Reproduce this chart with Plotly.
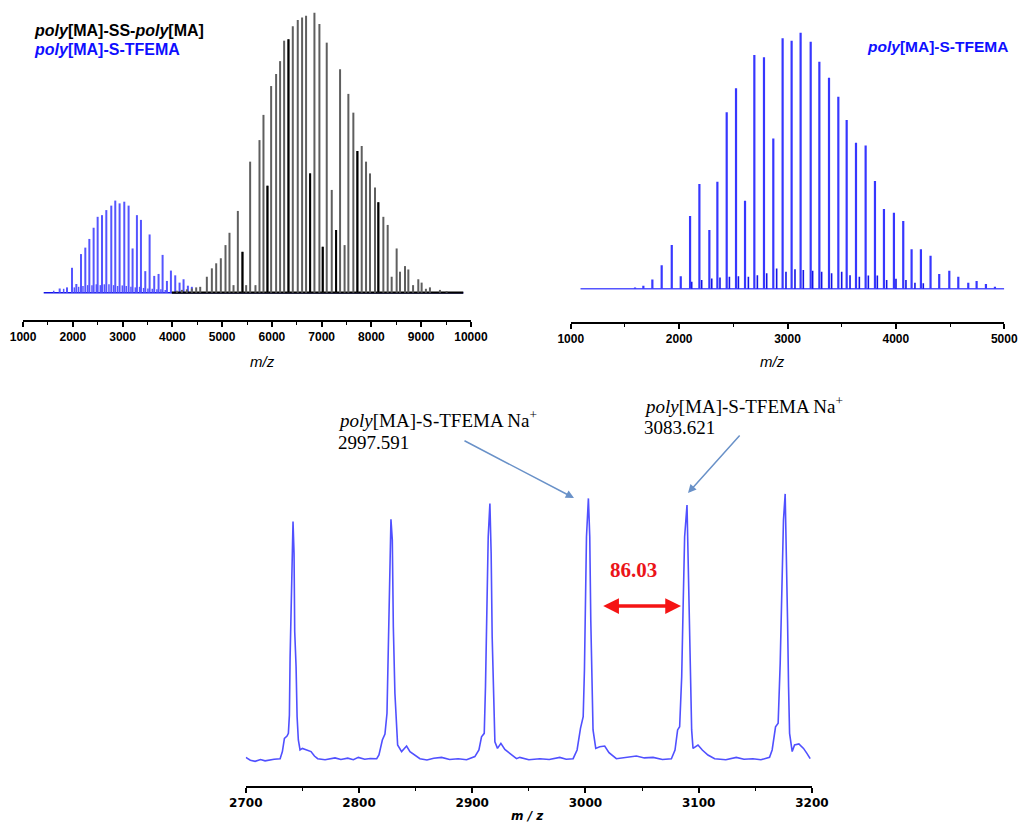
import plotly.graph_objects as go

W, H = 1021, 832

# ---------------- data ----------------
# Panel 1: poly[MA]-SS-poly[MA] (grey/black sticks)
P1_SS_MZ = [4091, 4192, 4292, 4392, 4479, 4560, 4693, 4794, 4881, 4974, 5068, 5148, 5229, 5316,
            5409, 5483, 5563, 5670, 5751, 5831, 5911, 5985, 6085, 6165, 6246, 6333, 6420, 6520,
            6607, 6687, 6768, 6855, 6955, 7022, 7102, 7203, 7290, 7370, 7461, 7537, 7637, 7718,
            7805, 7892, 7972, 8072, 8139, 8240, 8327, 8407, 8507, 8574, 8675, 8742, 8837, 8942,
            9009, 9095, 9176, 9377, 9511]
P1_SS_INT = [0.7, 1.0, 1.2, 1.5, 1.9, 2.1, 5.7, 8.7, 10.5, 12.3, 17.0, 21.4, 2.7, 29.2,
             14.6, 2.7, 46.8, 2.7, 54.5, 63.5, 38.2, 73.8, 78.1, 82.7, 90.0, 90.5, 95.2, 97.4,
             98.3, 98.9, 42.6, 100.0, 96.0, 16.4, 89.3, 36.7, 22.4, 79.8, 17.0, 71.0, 64.3, 50.6,
             52.4, 46.8, 42.6, 37.6, 32.3, 27.1, 24.2, 5.7, 15.8, 7.5, 9.5, 8.3, 2.7, 4.8,
             3.6, 1.4, 1.9, 1.0, 0.6]
P1_SS_DARK_MZ = [5409, 5911, 6333, 6768, 7022, 7290, 7718, 8139]
P1_SS_DARK_INT = [14.6, 38.2, 90.5, 42.6, 16.4, 22.4, 50.6, 32.3]

# Panel 1: poly[MA]-S-TFEMA (blue sticks)
P1_TF_MZ = [1736, 1883, 1984, 2071, 2164, 2251, 2332, 2418, 2499, 2586, 2673, 2773, 2853, 2940,
            3034, 3121, 3201, 3288, 3369, 3456, 3543, 3636, 3723, 3804, 3891, 3971, 4058, 4145,
            4225, 4312, 4392]
P1_TF_INT = [1.5, 1.9, 8.9, 3.1, 13.8, 16.1, 19.2, 23.2, 27.1, 27.7, 29.5, 31.1, 32.9, 31.9,
             32.5, 31.1, 15.8, 27.7, 26.0, 7.7, 20.8, 6.0, 6.7, 13.5, 4.2, 7.9, 6.2, 3.6,
             4.8, 2.5, 2.1]
P1_TF_SMALL_MZ = [1616, 1816, 2030, 2117, 2204, 2298, 2385, 2472, 2552, 2633, 2726, 2820, 2900,
                  2994, 3074, 3168, 3255, 3342, 3422, 3509, 3596, 3690, 3770, 3857]
P1_TF_SMALL_INT = [0.7, 1.4, 1.9, 2.1, 2.4, 2.7, 2.7, 3.0, 2.7, 3.0, 3.0, 2.7, 2.4,
                   2.6, 2.4, 2.1, 1.9, 2.1, 1.7, 1.5, 1.4, 1.2, 1.2, 1.0]
P1_TF_BASE = [1415, 9846]
P1_SS_BASE = [3990, 9846]

# Panel 2: poly[MA]-S-TFEMA
P2_MZ = [1593, 1670, 1753, 1839, 1932, 2015, 2101, 2187, 2279, 2353, 2439, 2525, 2608, 2694,
         2783, 2869, 2955, 3038, 3121, 3214, 3294, 3383, 3469, 3546, 3632, 3721, 3807, 3890,
         3982, 4068, 4145, 4231, 4320, 4400, 4493, 4576, 4668, 4745, 4831, 4914]
P2_INT = [0.5, 1.2, 3.6, 9.2, 17.1, 4.9, 28.4, 40.9, 22.9, 41.8, 68.9, 78.3, 34.4, 91.3,
          90.4, 58.7, 97.8, 96.9, 100.0, 96.5, 88.7, 82.4, 75.0, 65.9, 57.0, 55.9, 42.1, 31.1,
          29.7, 26.4, 15.4, 15.4, 12.9, 5.7, 7.0, 4.7, 2.3, 3.0, 1.8, 0.8]
P2_SMALL_MZ = [2116, 2208, 2301, 2377, 2464, 2547, 2639, 2722, 2808, 2900, 2986, 3069, 3146,
               3232, 3315, 3407, 3500, 3577, 3663, 3746, 3829, 3915, 4001, 4093, 4176, 4253]
P2_SMALL_INT = [2.7, 3.4, 4.0, 4.4, 4.7, 4.9, 4.7, 5.3, 6.0, 7.9, 6.6, 7.6, 7.3,
                7.0, 6.6, 6.0, 6.6, 5.3, 4.7, 5.2, 5.2, 3.4, 3.9, 3.4, 2.3, 2.1]
P2_BASE = [1090, 5000]

# Panel 3: zoomed profile spectrum
P3_MZ = [2700, 2704, 2708.2, 2713, 2717, 2720, 2725, 2730.3,
         2732.3, 2734.1, 2736.4, 2737.6, 2738.5, 2739.1, 2739.9, 2740.8, 2741.7, 2742.6, 2743.2,
         2744.4, 2745.3, 2746.4, 2747.9, 2750.0, 2753.8, 2757.6, 2760.6, 2763.5, 2770, 2778.8,
         2784, 2790, 2795, 2799.4, 2805, 2810, 2815.6,
         2817.6, 2820.6, 2822.9, 2824.7, 2825.9, 2827.0, 2828.2, 2829.4, 2830.3, 2831.7, 2832.9,
         2834.1, 2837.6, 2842.0, 2845.0, 2849.4, 2853.8, 2860, 2866, 2872.9, 2880, 2887.6, 2895,
         2902.3,
         2905.9, 2908.2, 2910.6, 2911.7, 2912.9, 2914.1, 2915.6, 2916.7, 2917.6, 2918.8, 2920.0,
         2922.3, 2925.3, 2928.8, 2933.2, 2939.1, 2942.0, 2950, 2959.7, 2968, 2977.3, 2983, 2989.1,
         2992.6, 2995.6, 2998.0, 2999.1, 3000.0, 3000.9, 3002.6, 3003.8, 3004.7, 3005.6, 3006.7,
         3009.1, 3012.6, 3017.0, 3020.8, 3027.3, 3035, 3045.0, 3052, 3059.7, 3068, 3075.9,
         3079.1, 3081.4, 3083.2, 3085.0, 3086.2, 3087.6, 3089.7, 3090.6, 3091.5, 3092.6, 3093.8,
         3095.0, 3099.4, 3103.2, 3108.2, 3114.1, 3124, 3133.2, 3140, 3147.9, 3155, 3162.6,
         3164.9, 3167.9, 3170.2, 3172.0, 3173.5, 3174.9, 3176.4, 3177.3, 3178.5, 3179.4, 3180.3,
         3182.6, 3184.7, 3188.5, 3192.6, 3195.6, 3198.5]
P3_INT = [0.5, -0.6, -1.0, -0.3, -0.8, -0.5, -0.2, 0.0,
          2.7, 7.7, 8.6, 9.6, 16.5, 38.0, 57.6, 82.8, 89.8, 77.8, 48.1,
          34.8, 15.9, 7.1, 3.3, 3.9, 3.3, 2.7, 1.0, 0.0, -0.4, 0.3,
          -0.3, 0.2, -0.4, 0.5, -0.2, 0.1, 0.0,
          1.4, 7.1, 9.3, 17.2, 40.5, 72.7, 90.7, 82.8, 50.0, 24.7, 12.1,
          5.2, 2.7, 4.8, 2.7, 1.4, 0.0, -0.5, 0.2, 0.5, -0.3, 0.0, -0.4,
          0.8,
          3.3, 8.3, 9.6, 27.3, 56.3, 84.1, 96.7, 77.8, 46.2, 21.0, 6.4,
          3.9, 5.8, 3.5, 2.0, 0.0, 0.5, -0.4, 0.0, -0.3, 0.5, -0.2, 0.0,
          3.3, 11.5, 15.9, 33.6, 61.4, 84.1, 98.6, 84.1, 52.5, 28.5, 10.9,
          3.9, 4.5, 4.8, 2.3, 0.0, 0.4, 1.0, 0.3, 0.5, -0.3, 0.0,
          3.3, 10.9, 12.1, 31.0, 56.3, 84.1, 96.1, 77.8, 52.5, 28.5, 10.9,
          3.9, 5.2, 3.3, 1.4, 0.0, -0.4, 0.5, -0.2, 0.0, -0.4, 0.5,
          3.3, 12.1, 13.4, 36.1, 65.2, 90.4, 100.3, 84.1, 52.5, 27.3, 9.6,
          2.7, 5.2, 5.6, 3.9, 2.0, 0.0]

# Axis ranges
P1_RANGE = [1000, 10000]
P2_RANGE = [1000, 5000]
P3_RANGE = [2700, 3200]


def sticks(mz, inten):
    xs, ys = [], []
    for m, v in zip(mz, inten):
        xs += [m, m, None]
        ys += [0, v, None]
    return xs, ys


def px(x):
    return x / W


def py(y):
    return 1 - y / H


GREY = "rgb(95,95,95)"
BLUE_L = "rgb(85,85,255)"
BLUE_D = "rgb(20,20,230)"

fig = go.Figure()

# ---- panel 1 ----
fig.add_trace(go.Scatter(x=P1_TF_BASE, y=[0, 0], mode="lines",
                         line=dict(color=BLUE_D, width=1.5), xaxis="x", yaxis="y"))
x, y = sticks(P1_TF_SMALL_MZ, P1_TF_SMALL_INT)
fig.add_trace(go.Scatter(x=x, y=y, mode="lines", line=dict(color=BLUE_L, width=1.5),
                         xaxis="x", yaxis="y"))
x, y = sticks(P1_TF_MZ, P1_TF_INT)
fig.add_trace(go.Scatter(x=x, y=y, mode="lines", line=dict(color=BLUE_L, width=2),
                         xaxis="x", yaxis="y"))
fig.add_trace(go.Scatter(x=P1_SS_BASE, y=[0, 0], mode="lines",
                         line=dict(color="black", width=2.2), xaxis="x", yaxis="y"))
x, y = sticks(P1_SS_MZ, P1_SS_INT)
fig.add_trace(go.Scatter(x=x, y=y, mode="lines", line=dict(color=GREY, width=2),
                         xaxis="x", yaxis="y"))
x, y = sticks(P1_SS_DARK_MZ, P1_SS_DARK_INT)
fig.add_trace(go.Scatter(x=x, y=y, mode="lines", line=dict(color="black", width=2),
                         xaxis="x", yaxis="y"))

# ---- panel 2 ----
fig.add_trace(go.Scatter(x=P2_BASE, y=[0, 0], mode="lines",
                         line=dict(color=BLUE_L, width=1.5), xaxis="x2", yaxis="y2"))
x, y = sticks(P2_SMALL_MZ, P2_SMALL_INT)
fig.add_trace(go.Scatter(x=x, y=y, mode="lines", line=dict(color=BLUE_D, width=1.6),
                         xaxis="x2", yaxis="y2"))
x, y = sticks(P2_MZ, P2_INT)
fig.add_trace(go.Scatter(x=x, y=y, mode="lines", line=dict(color="rgb(55,55,255)", width=2.2),
                         xaxis="x2", yaxis="y2"))

# ---- panel 3 ----
fig.add_trace(go.Scatter(x=P3_MZ, y=P3_INT, mode="lines",
                         line=dict(color="rgb(80,80,255)", width=1.6),
                         xaxis="x3", yaxis="y3"))

axis_common = dict(showline=True, linecolor="black", linewidth=1.7, ticks="outside",
                   tickcolor="black", tickwidth=1.5, ticklen=5, showgrid=False,
                   zeroline=False, fixedrange=True, automargin=False, tickformat="d")
tickfont_a = dict(family="Liberation Sans, Arial", size=12, color="black", weight="bold")
minor_a = dict(ticks="outside", ticklen=3, tickwidth=1.3, tickcolor="black", showgrid=False)

fig.update_layout(
    template="none",
    width=W, height=H, margin=dict(l=0, r=0, t=0, b=0, autoexpand=False),
    paper_bgcolor="white", plot_bgcolor="white", showlegend=False,
    font=dict(family="Liberation Sans, Arial", color="black"),
    xaxis=dict(domain=[px(23), px(471)], range=[P1_RANGE[0] - 1, P1_RANGE[1] + 1],
               dtick=1000, tick0=0, tickfont=tickfont_a, anchor="y",
               minor=dict(dtick=500, **minor_a), **axis_common),
    yaxis=dict(domain=[py(320), py(10)], range=[-9.75, 100.96], visible=False, anchor="x"),
    xaxis2=dict(domain=[px(570.7), px(1004.3)], range=[P2_RANGE[0] - 0.5, P2_RANGE[1] + 0.5],
                dtick=1000, tick0=0, tickfont=tickfont_a, anchor="y2",
                minor=dict(dtick=500, **minor_a), **axis_common),
    yaxis2=dict(domain=[py(321.7), py(10)], range=[-12.89, 108.87], visible=False, anchor="x2"),
    xaxis3=dict(domain=[px(245.7), px(812)], range=[P3_RANGE[0] - 0.1, P3_RANGE[1] + 0.1],
                dtick=100, tick0=0,
                tickfont=dict(family="DejaVu Sans", size=12, color="black", weight="bold"),
                anchor="y3", minor=dict(dtick=50, **minor_a), **axis_common),
    yaxis3=dict(domain=[py(786), py(470)], range=[-10.34, 109.36], visible=False, anchor="x3"),
)

ann = []
sans16b = dict(family="Liberation Sans, Arial", size=16)
ann.append(dict(x=px(32), y=py(30.7), xref="paper", yref="paper", xanchor="left",
                yanchor="middle", showarrow=False,
                text="<b><i>poly</i>[MA]-SS-<i>poly</i>[MA]</b>",
                font=dict(color="black", **sans16b)))
ann.append(dict(x=px(32), y=py(49.3), xref="paper", yref="paper", xanchor="left",
                yanchor="middle", showarrow=False,
                text="<b><i>poly</i>[MA]-S-TFEMA</b>",
                font=dict(color="rgb(15,15,255)", **sans16b)))
ann.append(dict(x=px(865), y=py(46), xref="paper", yref="paper", xanchor="left",
                yanchor="middle", showarrow=False,
                text="<b><i>poly</i>[MA]-S-TFEMA</b>",
                font=dict(color="rgb(15,15,255)", family="Liberation Sans, Arial", size=15.5)))
# axis titles
ann.append(dict(x=px(248), y=py(361), xref="paper", yref="paper", showarrow=False,
                text="<i>m/z</i>", font=dict(family="Liberation Sans, Arial", size=15,
                                             color="black")))
ann.append(dict(x=px(787), y=py(361.7), xref="paper", yref="paper", showarrow=False,
                text="<i>m/z</i>", font=dict(family="Liberation Sans, Arial", size=15,
                                             color="black")))
ann.append(dict(x=px(527), y=py(825), xref="paper", yref="paper", showarrow=False,
                text="<b><i>m / z</i></b>", font=dict(family="DejaVu Sans", size=12,
                                                      color="black")))
# peak labels
serif19 = dict(family="Liberation Serif, Times New Roman", size=19, color="black")
ann.append(dict(x=px(336), y=py(419), xref="paper", yref="paper", xanchor="left",
                yanchor="middle", showarrow=False,
                text="<i>poly</i>[MA]-S-TFEMA Na<sup>+</sup>", font=serif19))
ann.append(dict(x=px(336), y=py(442), xref="paper", yref="paper", xanchor="left",
                yanchor="middle", showarrow=False, text="2997.591", font=serif19))
ann.append(dict(x=px(641.5), y=py(404.5), xref="paper", yref="paper", xanchor="left",
                yanchor="middle", showarrow=False,
                text="<i>poly</i>[MA]-S-TFEMA Na<sup>+</sup>", font=serif19))
ann.append(dict(x=px(642), y=py(428), xref="paper", yref="paper", xanchor="left",
                yanchor="middle", showarrow=False, text="3083.621", font=serif19))
# pointer arrows
ann.append(dict(x=px(574), y=py(498), xref="paper", yref="paper", text="", showarrow=True,
                ax=463 - 574, ay=440 - 498, arrowhead=2, arrowsize=1.1, arrowwidth=1.5,
                arrowcolor="rgb(105,145,200)", standoff=0, startstandoff=0))
ann.append(dict(x=px(688), y=py(493), xref="paper", yref="paper", text="", showarrow=True,
                ax=741 - 688, ay=434 - 493, arrowhead=2, arrowsize=1.1, arrowwidth=1.5,
                arrowcolor="rgb(105,145,200)", standoff=0, startstandoff=0))
# red double arrow and label
ann.append(dict(x=px(681), y=py(606), xref="paper", yref="paper", text="", showarrow=True,
                ax=601.7 - 681, ay=0, arrowhead=2, startarrowhead=2, arrowside="end+start",
                arrowsize=0.9, startarrowsize=0.9, arrowwidth=3.5, arrowcolor="rgb(245,20,20)",
                standoff=0, startstandoff=0))
ann.append(dict(x=px(633.7), y=py(584), xref="paper", yref="paper", showarrow=False,
                text="<b>86.03</b>",
                font=dict(family="Liberation Serif, Times New Roman", size=21,
                          color="rgb(235,20,25)")))

fig.update_layout(annotations=ann)
fig.write_html("out.html")
